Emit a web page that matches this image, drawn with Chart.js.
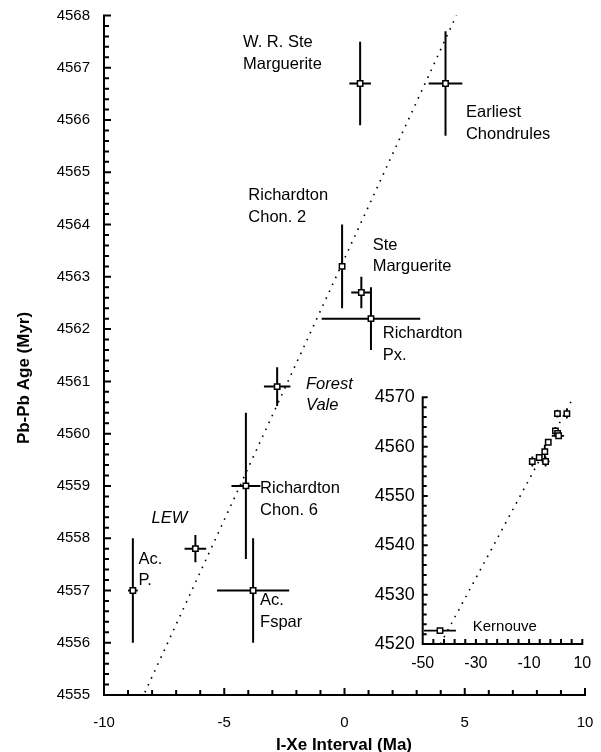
<!DOCTYPE html>
<html>
<head>
<meta charset="utf-8">
<title>Pb-Pb Age vs I-Xe Interval</title>
<script src="https://cdn.jsdelivr.net/npm/chart.js@4.4.1/dist/chart.umd.min.js"></script>
<style>
  html, body { margin: 0; padding: 0; background: #fff; }
  #wrap { position: relative; width: 601px; height: 752px; }
  #main { position: absolute; left: 0; top: 0; }
  #inset { position: absolute; left: 340px; top: 375px; }
</style>
</head>
<body>
<div id="wrap">
  <canvas id="main" width="601" height="752"></canvas>
  <canvas id="inset" width="261" height="325"></canvas>
</div>
<script>
// Samples: I-Xe interval (Ma) against Pb-Pb age (Myr), with 1-sigma errors
const samples     = ['W. R. Ste Marguerite', 'Earliest Chondrules', 'Richardton Chon. 2', 'Ste Marguerite',
                     'Richardton Px.', 'Forest Vale', 'Richardton Chon. 6', 'LEW', 'Ac. P.', 'Ac. Fspar'];
const ixeInterval = [0.65, 4.2, -0.1, 0.7, 1.1, -2.8, -4.1, -6.2, -8.8, -3.8];
const ixeError    = [0.45, 0.7, 0, 0.42, 2.05, 0.55, 0.6, 0.45, 0.2, 1.5];
const pbAge       = [4566.7, 4566.7, 4563.2, 4562.7, 4562.2, 4560.9, 4559.0, 4557.8, 4557.0, 4557.0];
const pbError     = [0.8, 1.0, 0.8, 0.3, 0.6, 0.37, 1.4, 0.26, 1.0, 1.0];

// Kernouve, shown only on the wide-range inset
const kernouveInterval = [-43.5];
const kernouveError    = [6];
const kernouveAge      = [4522.7];
const kernouveAgeError = [0.4];

// Correlation line (slope 1 Myr per Ma)
const trendX      = [-8.3, 4.7];
const trendY      = [4555.05, 4568.05];
const insetTrendX = [-43.35, 6];
const insetTrendY = [4520, 4569.35];

// Tick labels
const mainXTicks  = [-10, -5, 0, 5, 10];
const mainYTicks  = [4555, 4556, 4557, 4558, 4559, 4560, 4561, 4562, 4563, 4564, 4565, 4566, 4567, 4568];
const insetXTicks = [-50, -30, -10, 10];
const insetYTicks = [4520, 4530, 4540, 4550, 4560, 4570];

const FONT = "'Liberation Sans', Arial, Helvetica, sans-serif";

// Sample labels, anchored in data coordinates (left edge, middle of first line)
const mainLabels = [
  { lines: ['W. R. Ste', 'Marguerite'], x: -4.22, y: 4567.48 },
  { lines: ['Earliest', 'Chondrules'],  x: 5.05,  y: 4566.14 },
  { lines: ['Richardton', 'Chon. 2'],   x: -4.0,  y: 4564.55 },
  { lines: ['Ste', 'Marguerite'],       x: 1.17,  y: 4563.61 },
  { lines: ['Richardton', 'Px.'],       x: 1.59,  y: 4561.91 },
  { lines: ['Forest', 'Vale'],          x: -1.6,  y: 4560.95, italic: true },
  { lines: ['Richardton', 'Chon. 6'],   x: -3.51, y: 4558.95 },
  { lines: ['LEW'],                     x: -8.02, y: 4558.38, italic: true },
  { lines: ['Ac.', 'P.'],               x: -8.57, y: 4557.60 },
  { lines: ['Ac.', 'Fspar'],            x: -3.51, y: 4556.80 }
];
const insetLabels = [
  { lines: ['Kernouve'], x: -31.2, y: 4523.45, size: 15 }
];

function points(xs, ys) { return xs.map((x, i) => ({ x: x, y: ys[i] })); }

// Fixed scale footprints so the plot area is set only by the layout padding
function fitX(height) {
  return s => { s.height = height; s.paddingLeft = 0; s.paddingRight = 0; };
}
function fitY(width) {
  return s => { s.width = width; s.paddingTop = 0; s.paddingBottom = 0; };
}

// Draws inward axis ticks and the two axis lines
const axesPlugin = {
  id: 'axesPlugin',
  afterDraw(chart, args, o) {
    const { ctx, chartArea: a, scales: { x, y } } = chart;
    ctx.save();
    ctx.strokeStyle = '#000';
    ctx.lineWidth = 2;
    ctx.lineCap = 'butt';
    ctx.beginPath();
    ctx.moveTo(a.left, a.top - 1);
    ctx.lineTo(a.left, a.bottom + 1);
    ctx.moveTo(a.left - 1, a.bottom);
    ctx.lineTo(a.right + 1, a.bottom);
    const ny = Math.round((y.max - y.min) / o.yMinor);
    for (let i = 0; i <= ny; i++) {
      const v = y.min + i * o.yMinor;
      const major = Math.abs((v - y.min) / o.yMajor - Math.round((v - y.min) / o.yMajor)) < 1e-6;
      const py = y.getPixelForValue(v);
      ctx.moveTo(a.left, py);
      ctx.lineTo(a.left + (major ? o.yMajorLen : o.yMinorLen), py);
    }
    const nx = Math.round((x.max - x.min) / o.xMinor);
    for (let i = 0; i <= nx; i++) {
      const v = x.min + i * o.xMinor;
      const major = Math.abs((v - x.min) / o.xMajor - Math.round((v - x.min) / o.xMajor)) < 1e-6;
      const px = x.getPixelForValue(v);
      ctx.moveTo(px, a.bottom);
      ctx.lineTo(px, a.bottom - (major ? o.xMajorLen : o.xMinorLen));
    }
    ctx.stroke();
    ctx.restore();
  }
};

// Error bars for the sample dataset, drawn under the markers
const errorBarPlugin = {
  id: 'errorBarPlugin',
  beforeDatasetsDraw(chart, args, o) {
    const { ctx, scales: { x, y } } = chart;
    ctx.save();
    ctx.strokeStyle = '#000';
    ctx.lineWidth = o.width;
    ctx.beginPath();
    o.sets.forEach(s => {
      s.x.forEach((xv, i) => {
        const yv = s.y[i];
        const px = x.getPixelForValue(xv), py = y.getPixelForValue(yv);
        if (s.ye[i] > 0) {
          ctx.moveTo(px, y.getPixelForValue(yv + s.ye[i]));
          ctx.lineTo(px, y.getPixelForValue(yv - s.ye[i]));
        }
        if (s.xe[i] > 0) {
          ctx.moveTo(x.getPixelForValue(xv - s.xe[i]), py);
          ctx.lineTo(x.getPixelForValue(xv + s.xe[i]), py);
        }
      });
    });
    ctx.stroke();
    ctx.restore();
  }
};

// Sample names and axis titles
const textPlugin = {
  id: 'textPlugin',
  afterDraw(chart, args, o) {
    const { ctx, scales: { x, y } } = chart;
    ctx.save();
    ctx.fillStyle = '#000';
    ctx.textAlign = 'left';
    ctx.textBaseline = 'middle';
    o.labels.forEach(l => {
      const size = l.size || o.size;
      ctx.font = (l.italic ? 'italic ' : '') + size + 'px ' + FONT;
      const px = x.getPixelForValue(l.x), py = y.getPixelForValue(l.y);
      l.lines.forEach((t, k) => ctx.fillText(t, px, py + k * o.lineGap));
    });
    if (o.xTitle) {
      ctx.font = 'bold 17px ' + FONT;
      ctx.textAlign = 'center';
      ctx.textBaseline = 'alphabetic';
      ctx.fillText(o.xTitle, o.xTitlePos[0], o.xTitlePos[1]);
    }
    if (o.yTitle) {
      ctx.font = 'bold 17px ' + FONT;
      ctx.textAlign = 'center';
      ctx.textBaseline = 'alphabetic';
      ctx.translate(o.yTitlePos[0], o.yTitlePos[1]);
      ctx.rotate(-Math.PI / 2);
      ctx.fillText(o.yTitle, 0, 0);
    }
    ctx.restore();
  }
};

const markerStyle = {
  pointStyle: 'rect',
  pointRadius: 3.8,
  pointHoverRadius: 3.8,
  pointBackgroundColor: '#fff',
  pointBorderColor: '#000',
  pointBorderWidth: 1.5,
  showLine: false
};

const trendStyle = {
  type: 'line',
  borderColor: '#000',
  borderWidth: 1.6,
  borderDash: [1.6, 6],
  pointRadius: 0,
  fill: false,
  showLine: true,
  tension: 0
};

const hiddenGrid = { display: false, drawTicks: false };

// Main plot
new Chart(document.getElementById('main'), {
  type: 'scatter',
  data: {
    datasets: [
      Object.assign({ label: 'Correlation', data: points(trendX, trendY), order: 2 }, trendStyle),
      Object.assign({ label: 'Samples', data: points(ixeInterval, pbAge), order: 1 }, markerStyle)
    ]
  },
  options: {
    responsive: false,
    animation: false,
    events: [],
    layout: { padding: { top: 15.5, right: 16, left: 0, bottom: 0 } },
    scales: {
      x: {
        type: 'linear', min: -10, max: 10,
        afterBuildTicks: s => { s.ticks = mainXTicks.map(v => ({ value: v })); },
        afterFit: fitX(57),
        grid: hiddenGrid, border: { display: false },
        ticks: { color: '#000', font: { family: FONT, size: 15 }, padding: 19, maxRotation: 0 }
      },
      y: {
        type: 'linear', min: 4555, max: 4568,
        afterBuildTicks: s => { s.ticks = mainYTicks.map(v => ({ value: v })); },
        afterFit: fitY(104),
        grid: hiddenGrid, border: { display: false },
        ticks: { color: '#000', font: { family: FONT, size: 15 }, padding: 14,
                 callback: v => String(v) }
      }
    },
    plugins: {
      legend: { display: false },
      tooltip: { enabled: false },
      axesPlugin: { xMinor: 1, xMajor: 5, yMinor: 0.2, yMajor: 1,
                    xMajorLen: 7, xMinorLen: 5, yMajorLen: 7, yMinorLen: 5 },
      errorBarPlugin: { width: 2, sets: [{ x: ixeInterval, y: pbAge, xe: ixeError, ye: pbError }] },
      textPlugin: { labels: mainLabels, size: 16.5, lineGap: 21.5,
                    xTitle: 'I-Xe Interval (Ma)', xTitlePos: [344, 750],
                    yTitle: 'Pb-Pb Age (Myr)', yTitlePos: [29, 378] }
    }
  },
  plugins: [axesPlugin, errorBarPlugin, textPlugin]
});

// Inset: the same samples on a wider range, with Kernouve
const insetX   = ixeInterval.concat(kernouveInterval);
const insetXE  = ixeError.concat(kernouveError);
const insetY   = pbAge.concat(kernouveAge);
const insetYE  = pbError.concat(kernouveAgeError);

new Chart(document.getElementById('inset'), {
  type: 'scatter',
  data: {
    datasets: [
      Object.assign({ label: 'Correlation', data: points(insetTrendX, insetTrendY), order: 2 }, trendStyle),
      Object.assign({ label: 'Samples', data: points(insetX, insetY), order: 1 }, markerStyle)
    ]
  },
  options: {
    responsive: false,
    animation: false,
    events: [],
    layout: { padding: { top: 22.3, right: 18.7, left: 0, bottom: 0 } },
    scales: {
      x: {
        type: 'linear', min: -50, max: 10,
        afterBuildTicks: s => { s.ticks = insetXTicks.map(v => ({ value: v })); },
        afterFit: fitX(56),
        grid: hiddenGrid, border: { display: false },
        ticks: { color: '#000', font: { family: FONT, size: 16 }, padding: 10, maxRotation: 0 }
      },
      y: {
        type: 'linear', min: 4520, max: 4570,
        afterBuildTicks: s => { s.ticks = insetYTicks.map(v => ({ value: v })); },
        afterFit: fitY(82.7),
        grid: hiddenGrid, border: { display: false },
        ticks: { color: '#000', font: { family: FONT, size: 18 }, padding: 8,
                 callback: v => String(v) }
      }
    },
    plugins: {
      legend: { display: false },
      tooltip: { enabled: false },
      axesPlugin: { xMinor: 4, xMajor: 20, yMinor: 2, yMajor: 10,
                    xMajorLen: 5, xMinorLen: 5, yMajorLen: 5, yMinorLen: 4 },
      errorBarPlugin: { width: 1.8, sets: [{ x: insetX, y: insetY, xe: insetXE, ye: insetYE }] },
      textPlugin: { labels: insetLabels, size: 15, lineGap: 20 }
    }
  },
  plugins: [axesPlugin, errorBarPlugin, textPlugin]
});
</script>
</body>
</html>
